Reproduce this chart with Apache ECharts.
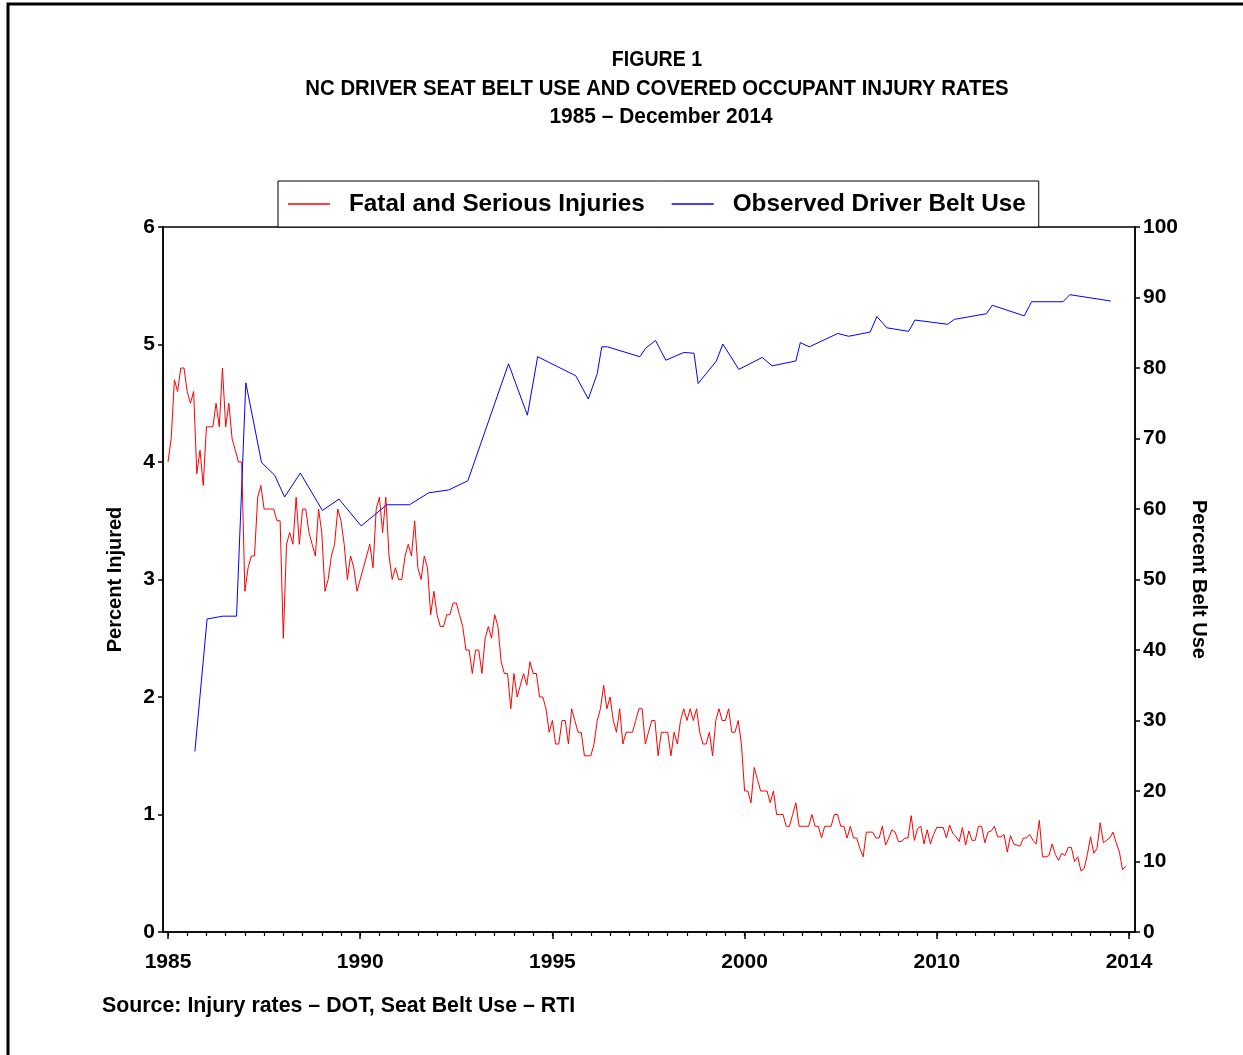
<!DOCTYPE html>
<html><head><meta charset="utf-8">
<script src="https://cdn.jsdelivr.net/npm/echarts@6/dist/echarts.min.js"></script>
<style>html,body{margin:0;padding:0;background:#fff}#c{width:1243px;height:1055px}</style>
</head><body><div id="c"></div>
<script>
// Monthly fatal & serious injury rate (percent), month 0 = Jan 1985
const injuryRates = [
  4.0, 4.2, 4.7, 4.6, 4.8, 4.8, 4.6, 4.5, 4.6, 3.9,
  4.1, 3.8, 4.3, 4.3, 4.3, 4.5, 4.3, 4.8, 4.3, 4.5,
  4.2, 4.1, 4.0, 4.0, 2.9, 3.1, 3.2, 3.2, 3.7, 3.8,
  3.6, 3.6, 3.6, 3.6, 3.5, 3.5, 2.5, 3.3, 3.4, 3.3,
  3.7, 3.3, 3.6, 3.6, 3.4, 3.3, 3.2, 3.6, 3.4, 2.9,
  3.0, 3.2, 3.3, 3.6, 3.5, 3.3, 3.0, 3.2, 3.1, 2.9,
  3.0, 3.1, 3.2, 3.3, 3.1, 3.6, 3.7, 3.4, 3.7, 3.2,
  3.0, 3.1, 3.0, 3.0, 3.2, 3.3,
  3.2, 3.5, 3.1, 3.0, 3.2, 3.1, 2.7, 2.9, 2.7, 2.6,
  2.6, 2.7, 2.7, 2.8, 2.8, 2.7, 2.6, 2.4, 2.4, 2.2,
  2.4, 2.4, 2.2, 2.5, 2.6, 2.5, 2.7, 2.6, 2.3, 2.2,
  2.2, 1.9, 2.2, 2.0, 2.1, 2.2, 2.1, 2.3, 2.2, 2.2,
  2.0, 2.0, 1.9, 1.7, 1.8, 1.6, 1.6, 1.8, 1.8, 1.6,
  1.9, 1.8, 1.7, 1.7, 1.5, 1.5,
  1.5, 1.6, 1.8, 1.9, 2.1, 1.9, 2.0, 1.8, 1.7, 1.9,
  1.6, 1.7, 1.7, 1.7, 1.8, 1.9, 1.9, 1.6, 1.7, 1.8,
  1.8, 1.5, 1.7, 1.7, 1.7, 1.5, 1.7, 1.6, 1.8, 1.9,
  1.8, 1.9, 1.8, 1.9, 1.7, 1.6, 1.6, 1.7, 1.5, 1.8,
  1.9, 1.8, 1.8, 1.9, 1.7, 1.7, 1.8, 1.6, 1.2, 1.2,
  1.1, 1.4, 1.3, 1.2, 1.2, 1.2, 1.1, 1.2,
  1.0, 1.0, 1.0, 0.9, 0.9, 1.0, 1.1, 0.9, 0.9, 0.9,
  0.9, 1.0, 0.9, 0.9, 0.8, 0.9, 0.9, 0.9, 1.0, 1.0,
  0.9, 0.9, 0.8, 0.9, 0.8, 0.8, 0.71, 0.64, 0.85, 0.85,
  0.85, 0.8, 0.8, 0.9, 0.74, 0.8, 0.87, 0.85, 0.77, 0.77,
  0.8, 0.8, 0.99, 0.78, 0.88,
  0.90, 0.75, 0.87, 0.75, 0.83, 0.89, 0.89, 0.89, 0.80, 0.91,
  0.84, 0.81, 0.77, 0.89, 0.74, 0.86, 0.78, 0.78, 0.90, 0.90,
  0.76, 0.85, 0.86, 0.90, 0.81, 0.81, 0.83, 0.68, 0.82, 0.75,
  0.74, 0.73, 0.80, 0.80, 0.83, 0.78, 0.75, 0.95, 0.64, 0.64,
  0.65, 0.75, 0.66, 0.61, 0.67, 0.65, 0.72, 0.72, 0.60, 0.64,
  0.52, 0.54, 0.66, 0.81, 0.67, 0.71, 0.93, 0.76, 0.78, 0.80,
  0.85, 0.76, 0.68, 0.53, 0.56
];

// Observed driver belt use surveys: month index and percent
const beltMonths = [
  8.4, 12.2, 17.2, 21.4, 24.3, 29.2, 33.3, 36.4, 41.3, 48.2,
  53.4, 60.3, 68.3, 75.4, 81.4, 87.6, 93.6, 106.3, 112.2, 115.4,
  127.3, 131.2, 134.0, 135.4, 137.2, 147.3, 149.1, 152.2, 155.4, 161.0,
  164.2, 165.5, 171.2, 173.2, 178.2, 185.5, 188.6, 196.0, 197.4, 200.2,
  209.1, 212.5, 219.2, 221.3, 224.4, 231.2, 233.2, 243.4, 245.5, 255.5,
  257.3, 267.3, 269.6, 279.4, 281.5, 294.3
];
const beltUse = [
  25.6, 44.4, 44.8, 44.8, 77.9, 66.6, 64.8, 61.7, 65.1, 59.8,
  61.4, 57.6, 60.6, 60.6, 62.3, 62.7, 64.0, 80.6, 73.3, 81.6,
  78.9, 75.6, 79.2, 83.0, 83.0, 81.6, 82.8, 83.9, 81.1, 82.2,
  82.1, 77.8, 81.0, 83.4, 79.8, 81.5, 80.3, 81.0, 83.6, 83.0,
  84.9, 84.5, 85.1, 87.3, 85.7, 85.2, 86.8, 86.2, 86.9, 87.7,
  88.9, 87.4, 89.4, 89.4, 90.4, 89.5
];

const xTickValues = [0, 60, 120, 180, 240, 300];
const xTickLabels = ['1985', '1990', '1995', '2000', '2010', '2014'];
const xMinorTicks = [];
for (let v = 0; v <= 300; v += 6) xMinorTicks.push(v);

const F = '"Liberation Sans", Arial, sans-serif';
const txt = (size) => ({ fontFamily: F, fontWeight: 'bold', fontSize: size, color: '#000' });
const gText = (text, x, y, sx, align) => ({
  type: 'text', x: x, y: y, scaleX: sx, silent: true,
  style: { text: text, textAlign: align, textVerticalAlign: 'middle', fill: '#000', font: 'bold 22px ' + F }
});

const chart = echarts.init(document.getElementById('c'), null, { renderer: 'canvas' });
const X_MIN = -1.56, X_MAX = 301.87;

chart.setOption({
  animation: false,
  backgroundColor: '#fff',
  graphic: [
    { type: 'rect', shape: { x: 8, y: 4, width: 1260, height: 1080 }, style: { fill: 'none', stroke: '#000', lineWidth: 3 }, silent: true },
    gText('FIGURE 1', 657, 60, 0.89, 'center'),
    gText('NC DRIVER SEAT BELT USE AND COVERED OCCUPANT INJURY RATES', 657, 89, 0.925, 'center'),
    gText('1985 \u2013 December 2014', 661, 117, 0.95, 'center'),
    gText('Source: Injury rates \u2013 DOT, Seat Belt Use \u2013 RTI', 102, 1006, 0.97, 'left')
  ],
  legend: {
    left: 278, top: 181,
    borderColor: '#000', borderWidth: 1,
    backgroundColor: '#fff',
    padding: [11, 13, 11, 10],
    itemWidth: 42, itemHeight: 1.5, itemGap: 27,
    icon: 'rect',
    textStyle: Object.assign(txt(24.3), { padding: [0, 0, 0, 14] }),
    data: ['Fatal and Serious Injuries', 'Observed Driver Belt Use']
  },
  grid: { left: 163, right: 108, top: 227, bottom: 123, show: true, borderColor: '#000', borderWidth: 1.5, backgroundColor: 'transparent', containLabel: false },
  xAxis: [
    {
      type: 'value', min: X_MIN, max: X_MAX, position: 'bottom',
      axisLine: { show: true, onZero: false, lineStyle: { color: '#000', width: 1.5 } },
      axisTick: { show: true, customValues: xTickValues, length: 7, lineStyle: { color: '#000', width: 1.5 } },
      axisLabel: Object.assign(txt(21), { customValues: xTickValues, margin: 20, formatter: v => xTickLabels[xTickValues.indexOf(v)] }),
      splitLine: { show: false }
    },
    {
      type: 'value', min: X_MIN, max: X_MAX, position: 'bottom',
      axisLine: { show: false, onZero: false },
      axisTick: { show: true, customValues: xMinorTicks, length: 4, lineStyle: { color: '#000', width: 1.2 } },
      axisLabel: { show: false },
      splitLine: { show: false }
    }
  ],
  yAxis: [
    {
      type: 'value', min: 0, max: 6, interval: 1, position: 'left',
      name: 'Percent Injured', nameLocation: 'middle', nameGap: 38, nameRotate: 90,
      nameTextStyle: txt(20),
      axisLine: { show: true, onZero: false, lineStyle: { color: '#000', width: 1.5 } },
      axisTick: { show: true, length: 5, lineStyle: { color: '#000', width: 1.5 } },
      axisLabel: Object.assign(txt(21), { margin: 8 }),
      splitLine: { show: false }
    },
    {
      type: 'value', min: 0, max: 100, interval: 10, position: 'right',
      name: 'Percent Belt Use', nameLocation: 'middle', nameGap: 50, nameRotate: -90,
      nameTextStyle: txt(20),
      axisLine: { show: true, onZero: false, lineStyle: { color: '#000', width: 1.5 } },
      axisTick: { show: true, length: 5, lineStyle: { color: '#000', width: 1.5 } },
      axisLabel: Object.assign(txt(21), { margin: 8 }),
      splitLine: { show: false }
    }
  ],
  series: [
    {
      name: 'Fatal and Serious Injuries', type: 'line', xAxisIndex: 0, yAxisIndex: 0,
      showSymbol: false, symbol: 'none',
      itemStyle: { color: '#ff0000' }, lineStyle: { color: '#ff0000', width: 1 },
      data: injuryRates.map((v, i) => [i, v])
    },
    {
      name: 'Observed Driver Belt Use', type: 'line', xAxisIndex: 0, yAxisIndex: 1,
      showSymbol: false, symbol: 'none',
      itemStyle: { color: '#0000ff' }, lineStyle: { color: '#0000ff', width: 1 },
      data: beltMonths.map((m, i) => [m, beltUse[i]])
    }
  ]
});
</script>
</body></html>
